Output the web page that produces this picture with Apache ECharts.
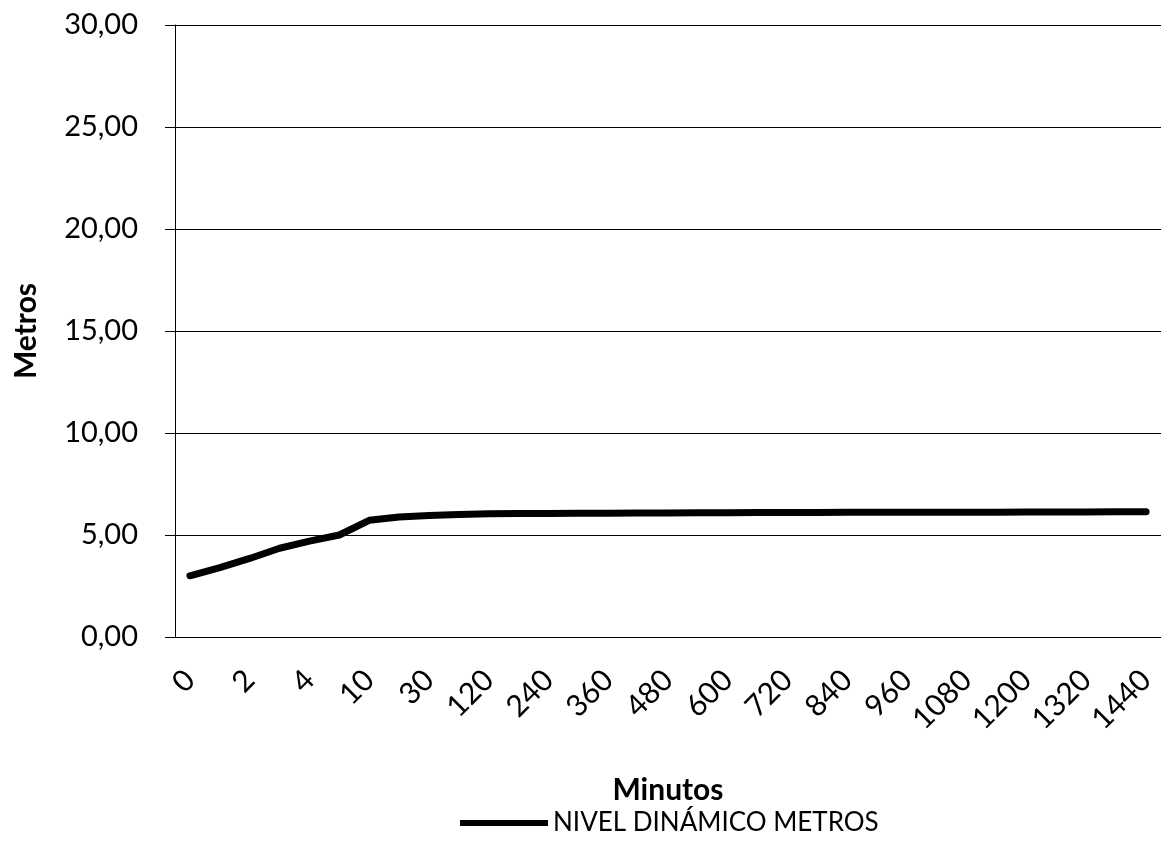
<!DOCTYPE html>
<html>
<head>
<meta charset="utf-8">
<title>Nivel dinámico</title>
<script src="https://cdn.jsdelivr.net/npm/echarts@6/dist/echarts.min.js"></script>
<style>
  html, body { margin: 0; padding: 0; background: #ffffff; overflow: hidden; }
  #chart { width: 1161px; height: 863px; }
</style>
</head>
<body>
<div id="chart"></div>
<script>
// Pumping-test time in minutes (category axis)
const minutos = ['0', '1', '2', '3', '4', '5', '10', '20', '30', '60', '120', '180', '240', '300', '360', '420',
  '480', '540', '600', '660', '720', '780', '840', '900', '960', '1020', '1080', '1140', '1200', '1260',
  '1320', '1380', '1440'];

// Dynamic water level in metres
const nivelDinamico = [3.00, 3.40, 3.85, 4.35, 4.70, 5.00, 5.72, 5.88, 5.95, 6.00, 6.04, 6.05, 6.06, 6.07,
  6.07, 6.08, 6.08, 6.09, 6.09, 6.10, 6.10, 6.10, 6.11, 6.11, 6.11, 6.12, 6.12, 6.12, 6.13, 6.13,
  6.13, 6.14, 6.14];

const serieNombre = 'NIVEL DINÁMICO METROS';
const ejeY = { min: 0, max: 30, interval: 5 };

const FONT = 'Lato, "Open Sans", sans-serif';

const chart = echarts.init(document.getElementById('chart'), null, { renderer: 'canvas' });

chart.setOption({
  backgroundColor: '#ffffff',
  animation: false,
  textStyle: { fontFamily: FONT, color: '#000' },
  grid: { left: 175, right: 0, top: 25, bottom: 226, containLabel: false, outerBoundsMode: 'none' },
  legend: {
    data: [serieNombre],
    left: 460,
    top: 810,
    padding: 0,
    icon: 'rect',
    itemWidth: 88,
    itemHeight: 6,
    textStyle: { fontFamily: FONT, fontSize: 26, color: '#000' }
  },
  xAxis: {
    type: 'category',
    data: minutos,
    boundaryGap: true,
    name: 'Minutos',
    nameLocation: 'middle',
    nameGap: 138,
    nameMoveOverlap: false,
    nameTextStyle: { fontFamily: FONT, fontSize: 30, fontWeight: 'bold', color: '#000' },
    axisLine: { lineStyle: { color: '#000', width: 1 } },
    axisTick: { show: false },
    axisLabel: {
      interval: 1,
      rotate: 45,
      margin: 38,
      fontFamily: FONT,
      fontSize: 30,
      color: '#000'
    },
    splitLine: { show: false }
  },
  yAxis: {
    type: 'value',
    min: ejeY.min,
    max: ejeY.max,
    interval: ejeY.interval,
    name: 'Metros',
    nameLocation: 'middle',
    nameRotate: 90,
    nameGap: 134,
    nameMoveOverlap: false,
    nameTextStyle: { fontFamily: FONT, fontSize: 30, fontWeight: 'bold', color: '#000' },
    axisLine: { show: true, lineStyle: { color: '#000', width: 1 } },
    axisTick: { show: true, length: 10, lineStyle: { color: '#000' } },
    axisLabel: {
      margin: 37,
      fontFamily: FONT,
      fontSize: 29,
      color: '#000',
      formatter: v => v.toFixed(2).replace('.', ',')
    },
    splitLine: { show: true, lineStyle: { color: '#000', width: 1 } }
  },
  series: [{
    name: serieNombre,
    type: 'line',
    data: nivelDinamico,
    showSymbol: false,
    symbol: 'none',
    itemStyle: { color: '#000' },
    lineStyle: { color: '#000', width: 7, cap: 'round', join: 'round' }
  }]
});
</script>
</body>
</html>
